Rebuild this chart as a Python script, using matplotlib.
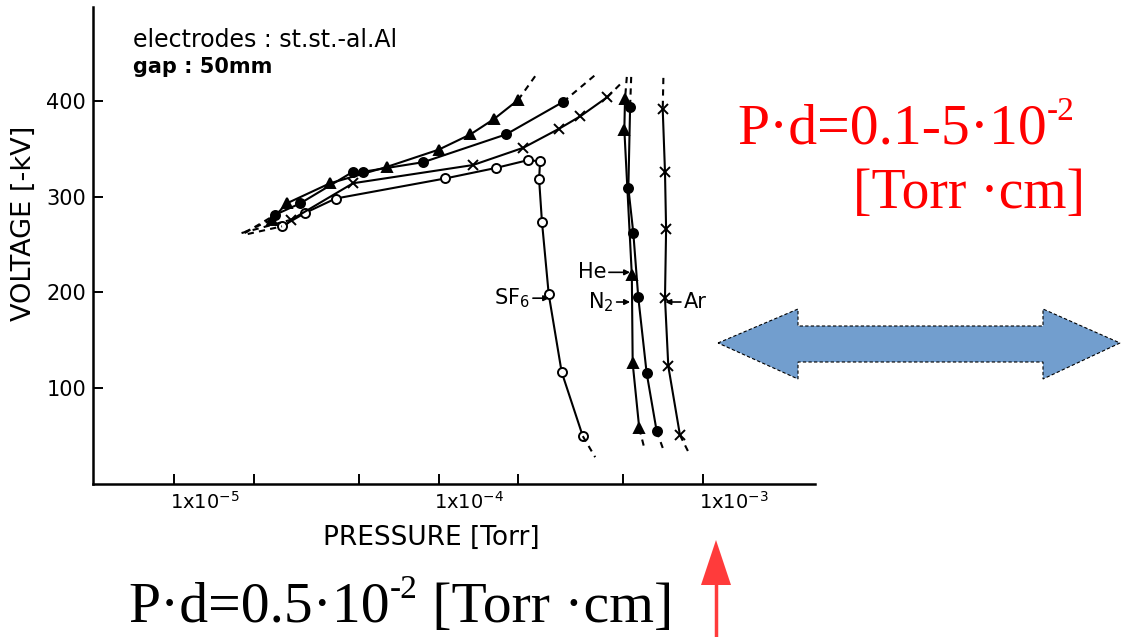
import matplotlib.pyplot as plt
from matplotlib.patches import Polygon
from matplotlib.lines import Line2D

plt.rcParams['font.family'] = ['DejaVu Sans']
plt.rcParams['mathtext.fontset'] = 'custom'
plt.rcParams['mathtext.rm'] = 'Liberation Serif'
plt.rcParams['mathtext.sf'] = 'DejaVu Sans'

# ---- datos (presion en Torr, tension en -kV) ----
# SF6, circulos abiertos (una sola curva)
sf6_p = [2.56e-5, 3.13e-5, 4.08e-5, 1.06e-4, 1.65e-4, 2.17e-4, 2.42e-4,
         2.40e-4, 2.46e-4, 2.61e-4, 2.92e-4, 3.51e-4]
sf6_v = [269, 283, 298, 319, 330, 338, 337, 318, 274, 198, 117, 50]
sf6_ext_p = [1.90e-5, 3.91e-4]
sf6_ext_v = [261, 28]

# He, triangulos
he_izq_p = [2.34e-5, 2.67e-5, 3.89e-5, 6.37e-5, 1.00e-4, 1.32e-4, 1.62e-4, 2.00e-4]
he_izq_v = [276, 293, 314, 331, 349, 365, 381, 401]
he_izq_ext_p = [1.85e-5, 2.35e-4]
he_izq_ext_v = [263, 428]
he_der_p = [5.07e-4, 5.04e-4, 5.38e-4, 5.42e-4, 5.74e-4]
he_der_v = [402, 370, 218, 126, 58]
he_der_ext_p = [5.15e-4, 6.03e-4]
he_der_ext_v = [425, 35]

# N2, circulos llenos
n2_izq_p = [2.41e-5, 3.00e-5, 4.75e-5, 5.19e-5, 8.76e-5, 1.80e-4, 2.96e-4]
n2_izq_v = [281, 293, 326, 326, 336, 365, 399]
n2_izq_ext_p = [1.85e-5, 3.91e-4]
n2_izq_ext_v = [262, 427]
n2_der_p = [5.30e-4, 5.22e-4, 5.45e-4, 5.69e-4, 6.12e-4, 6.68e-4]
n2_der_v = [394, 309, 262, 195, 116, 55]
n2_der_ext_p = [5.35e-4, 7.12e-4]
n2_der_ext_v = [425, 34]

# Ar, cruces
ar_izq_p = [2.78e-5, 4.75e-5, 1.35e-4, 2.09e-4, 2.86e-4, 3.44e-4, 4.35e-4]
ar_izq_v = [276, 314, 333, 351, 371, 384, 404]
ar_izq_ext_p = [1.80e-5, 4.97e-4]
ar_izq_ext_v = [262, 420]
ar_der_p = [7.04e-4, 7.18e-4, 7.25e-4, 7.18e-4, 7.39e-4, 8.18e-4]
ar_der_v = [391, 326, 266, 194, 123, 51]
ar_der_ext_p = [7.08e-4, 8.93e-4]
ar_der_ext_v = [424, 30]

x_ticks = [1e-5, 2e-5, 5e-5, 1e-4, 2e-4, 5e-4, 1e-3]
x_tick_labels = ['1x10$^{\\mathsf{-5}}$', '', '', '1x10$^{\\mathsf{-4}}$', '', '',
                 '1x10$^{\\mathsf{-3}}$']
y_ticks = [100, 200, 300, 400]

W, H = 1121, 637
fig = plt.figure(figsize=(W / 100, H / 100), dpi=100)
ax = fig.add_axes([93 / W, 1 - 484 / H, 722 / W, 477 / H])


def curva(p, v, ext_p, ext_v, marker, fill):
    ax.plot(p, v, color='black', lw=1.5, marker=marker, ms=6.5,
            mfc=fill, mec='black', mew=1.4)
    # tramos punteados en los extremos
    ax.plot([ext_p[0], p[0]], [ext_v[0], v[0]], color='black', lw=1.5, ls=(0, (3, 2.5)))
    ax.plot([p[-1], ext_p[1]], [v[-1], ext_v[1]], color='black', lw=1.5, ls=(0, (3, 2.5)))


curva(sf6_p, sf6_v, sf6_ext_p, sf6_ext_v, 'o', 'white')
curva(he_izq_p, he_izq_v, he_izq_ext_p, he_izq_ext_v, '^', 'black')
curva(he_der_p, he_der_v, he_der_ext_p, he_der_ext_v, '^', 'black')
curva(n2_izq_p, n2_izq_v, n2_izq_ext_p, n2_izq_ext_v, 'o', 'black')
curva(n2_der_p, n2_der_v, n2_der_ext_p, n2_der_ext_v, 'o', 'black')
curva(ar_izq_p, ar_izq_v, ar_izq_ext_p, ar_izq_ext_v, 'x', 'black')
curva(ar_der_p, ar_der_v, ar_der_ext_p, ar_der_ext_v, 'x', 'black')

ax.set_xscale('log')
ax.set_xlim(4.94e-6, 2.65e-3)
ax.set_ylim(0, 498)
ax.set_xticks(x_ticks)
ax.minorticks_off()
ax.set_yticks(y_ticks)
ax.tick_params(axis='both', direction='in', length=7, width=1.4)
ax.tick_params(axis='y', pad=5, labelsize=15)
ax.tick_params(axis='x', labelbottom=False)
# etiquetas del eje x empiezan en la marca, como en el original
for xt, lab in zip(x_ticks, x_tick_labels):
    ax.annotate(lab, xy=(xt, 0), xycoords=('data', 'axes fraction'),
                xytext=(-3, -5), textcoords='offset points',
                ha='left', va='top', fontsize=14)
for s in ['top', 'right']:
    ax.spines[s].set_visible(False)
for s in ['left', 'bottom']:
    ax.spines[s].set_linewidth(1.8)

ax.set_xlabel('PRESSURE [Torr]', fontsize=19)
ax.xaxis.set_label_coords(0.468, -0.086)
ax.set_ylabel('VOLTAGE [-kV]', fontsize=19.5, va='center')
ax.yaxis.set_label_coords(-0.0956, 0.547)

ax.text(0.055, 0.93, 'electrodes : st.st.-al.Al', transform=ax.transAxes,
        fontsize=17, va='center')
ax.text(0.055, 0.874, 'gap : 50mm', transform=ax.transAxes,
        fontsize=15, va='center', fontweight='bold')

flecha = dict(arrowstyle='-|>', lw=1.2, color='black', mutation_scale=8,
              shrinkA=0, shrinkB=0)
ax.annotate('SF$_{\\mathsf{6}}$', xy=(2.62e-4, 194), xytext=(2.22e-4, 194),
            ha='right', va='center', fontsize=15, arrowprops=flecha)
ax.annotate('He', xy=(5.3e-4, 221), xytext=(4.3e-4, 221),
            ha='right', va='center', fontsize=15, arrowprops=flecha)
ax.annotate('N$_{\\mathsf{2}}$', xy=(5.3e-4, 190), xytext=(4.6e-4, 190),
            ha='right', va='center', fontsize=15, arrowprops=flecha)
ax.annotate('Ar', xy=(7.2e-4, 190), xytext=(8.45e-4, 190),
            ha='left', va='center', fontsize=15, arrowprops=flecha)


def fpix(x, y):
    return (x / W, 1 - y / H)


def texto_exp(x, y, partes, color, size):
    # partes: lista de (texto, es_exponente); se escriben una tras otra
    renderer = fig.canvas.get_renderer()
    for txt, sup in partes:
        t = fig.text(*fpix(x, y - (24 if sup else 0)), txt, color=color,
                     family='Liberation Serif', fontsize=24 if sup else size,
                     va='baseline', ha='left')
        x = t.get_window_extent(renderer).x1


# textos grandes
texto_exp(737, 144, [('P·d=0.1-5·10', False), ('-2', True)], 'red', 41.5)
texto_exp(853, 208, [('[Torr ·cm]', False)], 'red', 40)
texto_exp(128, 622, [('P·d=0.5·10', False), ('-2', True), (' [Torr ·cm]', False)],
          'black', 41.5)

# flecha doble azul
pts = [(718, 343), (798, 309), (798, 326), (1043, 326), (1043, 309), (1120, 343),
       (1043, 379), (1043, 362), (798, 362), (798, 379)]
fig.add_artist(Polygon([fpix(*p) for p in pts], closed=True, transform=fig.transFigure,
                       facecolor='#729ece', edgecolor='black', lw=0.8, ls=(0, (3, 2))))

# flecha roja hacia arriba
fig.add_artist(Line2D([716 / W, 716 / W], [1 - 637 / H, 1 - 580 / H],
                      transform=fig.transFigure, color='#ff3b3b', lw=2.5))
fig.add_artist(Polygon([fpix(701, 585), fpix(716, 540), fpix(731, 585)], closed=True,
                       transform=fig.transFigure, facecolor='#ff3b3b', edgecolor='none'))

fig.savefig('out.png', dpi=100)
